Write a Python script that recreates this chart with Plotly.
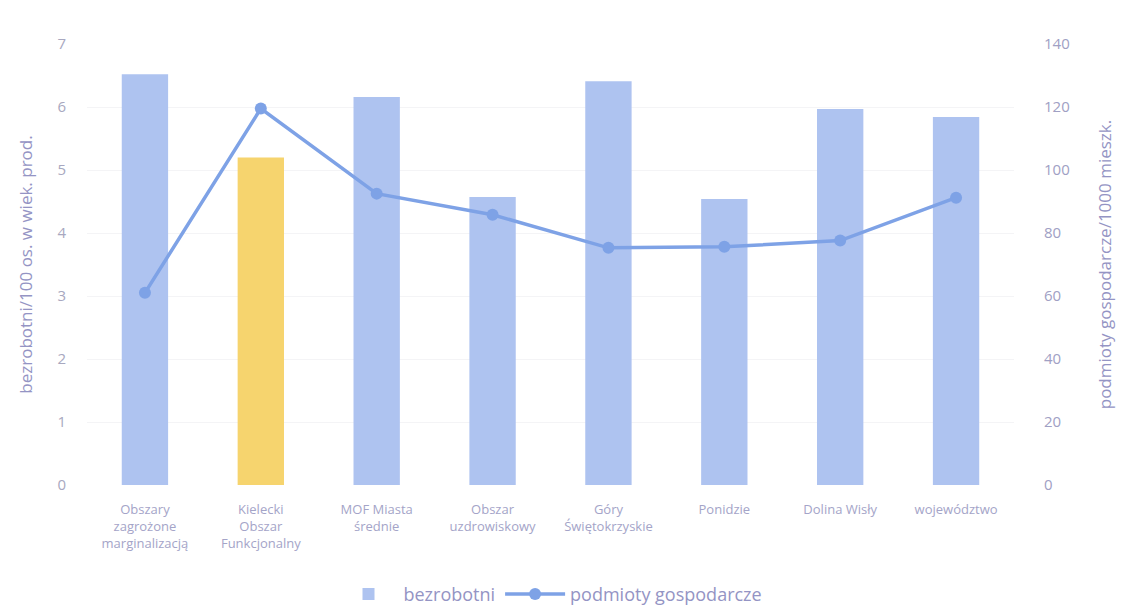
import plotly.graph_objects as go

categories = ["Obszary<br>zagrożone<br>marginalizacją", "Kielecki<br>Obszar<br>Funkcjonalny",
              "MOF Miasta<br>średnie", "Obszar<br>uzdrowiskowy", "Góry<br>Świętokrzyskie",
              "Ponidzie", "Dolina Wisły", "województwo"]
bezrobotni = [6.52, 5.2, 6.16, 4.57, 6.41, 4.54, 5.97, 5.84]
podmioty = [61, 119.5, 92.5, 85.8, 75.3, 75.6, 77.6, 91.2]

bar_colors = ["#aec3f0"] * len(categories)
bar_colors[1] = "#f6d46e"

txt = "#9494c4"
font = "Open Sans"

fig = go.Figure()
fig.add_trace(go.Bar(x=categories, y=bezrobotni, name="bezrobotni",
                     marker=dict(color=bar_colors, line=dict(width=0)), width=0.4))
fig.add_trace(go.Scatter(x=categories, y=podmioty, name="podmioty gospodarcze", yaxis="y2",
                         mode="lines+markers", line=dict(color="#7ea2e6", width=3.5),
                         marker=dict(size=12, color="#7ea2e6")))

fig.update_layout(
    width=1135, height=614,
    margin=dict(l=79, r=129, t=36, b=137, autoexpand=False),
    paper_bgcolor="white", plot_bgcolor="white",
    font=dict(family=font, color=txt),
    showlegend=True,
    legend=dict(orientation="h", x=0.5, xanchor="center", yref="container", y=0.045, yanchor="middle",
                font=dict(size=18, color=txt), traceorder="normal", itemwidth=60),
    xaxis=dict(tickfont=dict(size=13, color="#a4a4c8"), showgrid=False, showline=False, ticks="",
               automargin=False, ticklabelstandoff=15),
    yaxis=dict(range=[0, 7], dtick=1, tickfont=dict(size=15, color="#a8a8c0"),
               showgrid=True, gridcolor="#f4f4f6", zeroline=False, showline=False, automargin=False,
               ticklabelstandoff=20,
               title=dict(text="bezrobotni/100 os. w wiek. prod.", font=dict(size=17, color=txt), standoff=20)),
    yaxis2=dict(range=[0, 140], dtick=20, overlaying="y", side="right", automargin=False,
                tickfont=dict(size=15, color="#a0a0c4"), showgrid=False, zeroline=False, showline=False,
                ticklabelstandoff=29,
                title=dict(text="podmioty gospodarcze/1000 mieszk.", font=dict(size=17, color=txt), standoff=30)),
)

fig.write_html("out.html")
